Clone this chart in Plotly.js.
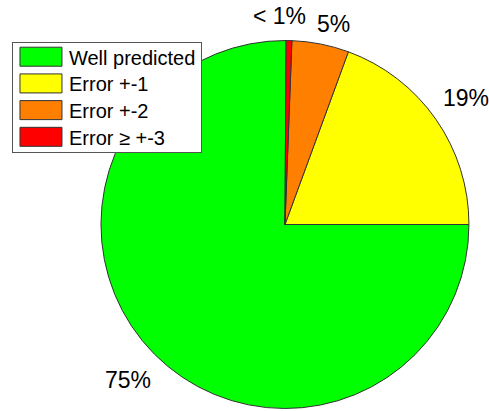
<!DOCTYPE html>
<html>
<head>
<meta charset="utf-8">
<script src="https://cdn.plot.ly/plotly-3.0.1.min.js"></script>
<style>
  html, body { margin: 0; padding: 0; background: #fff; }
  #chart { width: 489px; height: 411px; }
</style>
</head>
<body>
<div id="chart"></div>
<script>
// Share of predictions by error class (percent)
const categories = ['Well predicted', 'Error +-1', 'Error +-2', 'Error \u2265 +-3'];
const shares = [75.1, 19.4, 5.0, 0.5];
const colors = ['#00ff00', '#ffff00', '#ff8000', '#ff0000'];

const W = 489, H = 411;
const FONT = 'Liberation Sans, Arial, sans-serif';

const total = shares.reduce((a, b) => a + b, 0);
const sliceText = shares.map(v => {
  const p = 100 * v / total;
  return p < 1 ? '< 1%' : Math.round(p) + '%';
});

// percentage labels sit at 1.2 x radius on each slice's mid-angle;
// the two narrow top slices get nudged apart so they don't collide
const labelRadius = 1.2;
const labelNudge = [[0, 0], [0, 0], [6, 16], [-10, 12]];

const trace = {
  type: 'pie',
  labels: categories,
  values: shares,
  textinfo: 'none',
  sort: false,
  direction: 'counterclockwise',
  rotation: 90,
  marker: { colors: colors, line: { color: '#333333', width: 1 } },
  hoverinfo: 'none',
  domain: { x: [0.2065, 0.959], y: [0.006, 0.9015] }
};

const layout = {
  width: W,
  height: H,
  margin: { l: 0, r: 0, t: 0, b: 0 },
  paper_bgcolor: '#ffffff',
  showlegend: true,
  legend: {
    x: 0.0245, y: 0.8985, xanchor: 'left', yanchor: 'top',
    bgcolor: '#ffffff', bordercolor: '#555555', borderwidth: 1,
    font: { family: FONT, size: 20, color: '#000' },
    traceorder: 'normal',
    itemwidth: 46,
    tracegroupgap: 0
  }
};

const gd = document.getElementById('chart');

Plotly.newPlot(gd, [trace], layout, { staticPlot: true }).then(() => {
  // place the percentage labels from the pie's own geometry
  const cd = gd.calcdata[0];
  const cx = cd[0].cx, cy = cd[0].cy;
  const annotations = cd.map((pt, i) => {
    const px = cx + labelRadius * pt.pxmid[0] + labelNudge[i][0];
    const py = cy + labelRadius * pt.pxmid[1] + labelNudge[i][1];
    return {
      xref: 'paper', yref: 'paper',
      x: px / W, y: 1 - py / H,
      xanchor: 'center', yanchor: 'middle',
      text: sliceText[pt.i !== undefined ? pt.i : i],
      showarrow: false,
      font: { family: FONT, size: 23, color: '#000' }
    };
  });
  return Plotly.relayout(gd, { annotations: annotations });
}).then(() => {
  // wide rectangular swatches and tighter rows in the legend
  const rowGap = 26.7, firstRow = 15;
  const items = gd.querySelectorAll('.legend g.traces');
  items.forEach((g, i) => {
    const m = /translate\(([-\d.]+)[ ,]+([-\d.]+)\)/.exec(g.getAttribute('transform') || '');
    const x = m ? parseFloat(m[1]) : 0;
    g.setAttribute('transform', 'translate(' + x + ',' + (firstRow + i * rowGap) + ')');
  });
  gd.querySelectorAll('.legend .legendpoints path').forEach(p => {
    p.setAttribute('d', 'M-21,9.5H21V-9.5H-21Z');
    p.style.strokeWidth = '1px';
  });
  const bg = gd.querySelector('.legend rect.bg');
  if (bg) bg.setAttribute('height', firstRow * 2 + (items.length - 1) * rowGap);
});
</script>
</body>
</html>
